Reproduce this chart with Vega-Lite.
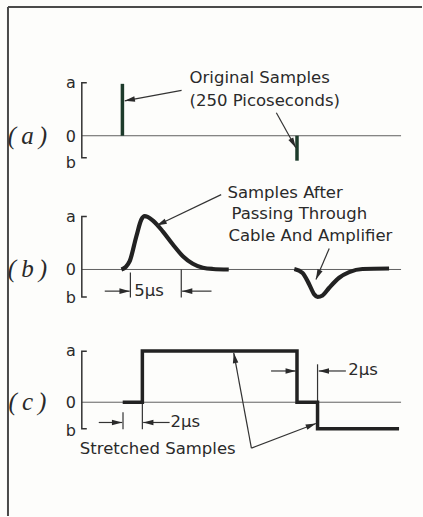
{
  "$schema": "https://vega.github.io/schema/vega-lite/v6.json",
  "width": 423,
  "height": 517,
  "autosize": {"type": "fit", "contains": "padding"},
  "padding": 0,
  "background": "#fdfdfb",
  "config": {"view": {"stroke": null}},
  "datasets": {
    "frame": [
      {"x": 8, "y": 7, "x2": 423, "y2": 7},
      {"x": 8, "y": 7, "x2": 8, "y2": 517}
    ],
    "baselines": [
      {"x": 82, "x2": 402, "y": 136},
      {"x": 82, "x2": 402, "y": 270},
      {"x": 82, "x2": 402, "y": 403}
    ],
    "brackets": [
      {"id": "a", "o": 1, "x": 87, "y": 83},
      {"id": "a", "o": 2, "x": 82, "y": 83},
      {"id": "a", "o": 3, "x": 82, "y": 158},
      {"id": "a", "o": 4, "x": 87, "y": 158},
      {"id": "b", "o": 1, "x": 87, "y": 217},
      {"id": "b", "o": 2, "x": 82, "y": 217},
      {"id": "b", "o": 3, "x": 82, "y": 297.5},
      {"id": "b", "o": 4, "x": 87, "y": 297.5},
      {"id": "c", "o": 1, "x": 87, "y": 352},
      {"id": "c", "o": 2, "x": 82, "y": 352},
      {"id": "c", "o": 3, "x": 82, "y": 429.5},
      {"id": "c", "o": 4, "x": 87, "y": 429.5}
    ],
    "spikes": [
      {"x": 122.7, "y": 136, "y2": 84},
      {"x": 297.7, "y": 136, "y2": 161}
    ],
    "pulses": [
      {"id": "p", "o": 1, "x": 121.7, "y": 270},
      {"id": "p", "o": 2, "x": 126, "y": 267.5},
      {"id": "p", "o": 3, "x": 130, "y": 261.7},
      {"id": "p", "o": 4, "x": 136.7, "y": 236.7},
      {"id": "p", "o": 5, "x": 141.7, "y": 220},
      {"id": "p", "o": 6, "x": 145, "y": 216.5},
      {"id": "p", "o": 7, "x": 148, "y": 217.3},
      {"id": "p", "o": 8, "x": 153.3, "y": 221},
      {"id": "p", "o": 9, "x": 163.3, "y": 232},
      {"id": "p", "o": 10, "x": 173.3, "y": 245},
      {"id": "p", "o": 11, "x": 183.3, "y": 256.7},
      {"id": "p", "o": 12, "x": 193.3, "y": 264.3},
      {"id": "p", "o": 13, "x": 203.3, "y": 268.3},
      {"id": "p", "o": 14, "x": 213.3, "y": 269.5},
      {"id": "p", "o": 15, "x": 229.3, "y": 270},
      {"id": "n", "o": 1, "x": 295, "y": 269.5},
      {"id": "n", "o": 2, "x": 303.3, "y": 273.5},
      {"id": "n", "o": 3, "x": 310, "y": 285},
      {"id": "n", "o": 4, "x": 315, "y": 295},
      {"id": "n", "o": 5, "x": 318.3, "y": 297.5},
      {"id": "n", "o": 6, "x": 323.3, "y": 296},
      {"id": "n", "o": 7, "x": 330, "y": 288.3},
      {"id": "n", "o": 8, "x": 340, "y": 278.3},
      {"id": "n", "o": 9, "x": 350, "y": 272.7},
      {"id": "n", "o": 10, "x": 363.3, "y": 269.5},
      {"id": "n", "o": 11, "x": 390, "y": 269}
    ],
    "steps": [
      {"o": 1, "x": 123, "y": 403},
      {"o": 2, "x": 142.7, "y": 403},
      {"o": 3, "x": 142.7, "y": 351.7},
      {"o": 4, "x": 297.7, "y": 351.7},
      {"o": 5, "x": 297.7, "y": 403},
      {"o": 6, "x": 318.3, "y": 403},
      {"o": 7, "x": 318.3, "y": 429.7},
      {"o": 8, "x": 400, "y": 429.7}
    ],
    "arrows": [
      {"x": 182, "y": 90.5, "x2": 125, "y2": 101},
      {"x": 277, "y": 113, "x2": 296.5, "y2": 148},
      {"x": 221.7, "y": 195, "x2": 157, "y2": 226},
      {"x": 330, "y": 249, "x2": 316.7, "y2": 280},
      {"x": 252, "y": 449, "x2": 234.3, "y2": 353.5},
      {"x": 252, "y": 449, "x2": 316.7, "y2": 424.3},
      {"x": 105, "y": 291.7, "x2": 130, "y2": 291.7},
      {"x": 212, "y": 291.7, "x2": 182.5, "y2": 291.7},
      {"x": 99, "y": 423.3, "x2": 122.5, "y2": 423.3},
      {"x": 170, "y": 423.3, "x2": 143.5, "y2": 423.3},
      {"x": 271.7, "y": 371.7, "x2": 296.5, "y2": 371.7},
      {"x": 346.7, "y": 371.7, "x2": 319.5, "y2": 371.7}
    ],
    "ticks": [
      {"x": 130.7, "y": 273, "y2": 298},
      {"x": 181.7, "y": 270, "y2": 298},
      {"x": 123.3, "y": 413, "y2": 430},
      {"x": 142.7, "y": 403, "y2": 430},
      {"x": 318.3, "y": 365, "y2": 403}
    ],
    "notes": [
      {"x": 190, "y": 78, "text": "Original Samples"},
      {"x": 190, "y": 101, "text": "(250 Picoseconds)"},
      {"x": 228, "y": 193, "text": "Samples After"},
      {"x": 232, "y": 214.5, "text": "Passing Through"},
      {"x": 229, "y": 236, "text": "Cable And Amplifier"},
      {"x": 134.5, "y": 291.5, "text": "5µs"},
      {"x": 171, "y": 423, "text": "2µs"},
      {"x": 349, "y": 371, "text": "2µs"},
      {"x": 80, "y": 450, "text": "Stretched Samples"}
    ],
    "levels": [
      {"x": 71, "y": 83, "text": "a"},
      {"x": 71, "y": 137, "text": "0"},
      {"x": 71, "y": 163, "text": "b"},
      {"x": 71, "y": 217.5, "text": "a"},
      {"x": 71, "y": 270.5, "text": "0"},
      {"x": 71, "y": 298.5, "text": "b"},
      {"x": 71, "y": 352, "text": "a"},
      {"x": 71, "y": 404, "text": "0"},
      {"x": 71, "y": 432, "text": "b"}
    ],
    "panels": [
      {"x": 27.5, "y": 136, "text": "(\u2009a\u2009)"},
      {"x": 27.5, "y": 270, "text": "(\u2009b\u2009)"},
      {"x": 27.5, "y": 403, "text": "(\u2009c\u2009)"}
    ]
  },
  "encoding": {
    "x": {"field": "x", "type": "quantitative", "axis": null, "scale": {"domain": [0, 423], "nice": false, "zero": false}},
    "y": {"field": "y", "type": "quantitative", "axis": null, "scale": {"domain": [0, 517], "nice": false, "zero": false, "reverse": true}}
  },
  "layer": [
    {
      "data": {"name": "frame"},
      "mark": {"type": "rule", "color": "#4a4a4a", "strokeWidth": 2},
      "encoding": {"x2": {"field": "x2"}, "y2": {"field": "y2"}}
    },
    {
      "data": {"name": "baselines"},
      "mark": {"type": "rule", "color": "#606060", "strokeWidth": 1},
      "encoding": {"x2": {"field": "x2"}}
    },
    {
      "data": {"name": "brackets"},
      "mark": {"type": "line", "color": "#333333", "strokeWidth": 1.5, "strokeJoin": "miter"},
      "encoding": {"detail": {"field": "id"}, "order": {"field": "o", "type": "quantitative"}}
    },
    {
      "data": {"name": "ticks"},
      "mark": {"type": "rule", "color": "#333333", "strokeWidth": 1.2},
      "encoding": {"y2": {"field": "y2"}}
    },
    {
      "data": {"name": "spikes"},
      "mark": {"type": "rule", "color": "#1d3b2b", "strokeWidth": 3.5},
      "encoding": {"y2": {"field": "y2"}}
    },
    {
      "data": {"name": "pulses"},
      "mark": {"type": "line", "color": "#222222", "strokeWidth": 4.2, "interpolate": "monotone", "strokeCap": "butt"},
      "encoding": {"detail": {"field": "id"}, "order": {"field": "o", "type": "quantitative"}}
    },
    {
      "data": {"name": "steps"},
      "mark": {"type": "line", "color": "#222222", "strokeWidth": 3.5, "strokeJoin": "miter", "strokeCap": "butt"},
      "encoding": {"order": {"field": "o", "type": "quantitative"}}
    },
    {
      "data": {"name": "arrows"},
      "mark": {"type": "rule", "color": "#333333", "strokeWidth": 1.2},
      "encoding": {"x2": {"field": "x2"}, "y2": {"field": "y2"}}
    },
    {
      "data": {"name": "arrows"},
      "transform": [{"calculate": "(atan2(datum.x2 - datum.x, datum.y - datum.y2) * 180 / PI + 360) % 360", "as": "angle"}],
      "mark": {"type": "point", "filled": true, "color": "#2a2a2a", "opacity": 1, "shape": "M0,0L-0.27,1L0.27,1Z", "size": 420},
      "encoding": {
        "x": {"field": "x2", "type": "quantitative"},
        "y": {"field": "y2", "type": "quantitative"},
        "angle": {"field": "angle", "type": "quantitative", "scale": null}
      }
    },
    {
      "data": {"name": "notes"},
      "mark": {"type": "text", "align": "left", "baseline": "middle", "font": "DejaVu Sans", "fontSize": 16.5, "color": "#2a2a2a"},
      "encoding": {"text": {"field": "text"}}
    },
    {
      "data": {"name": "levels"},
      "mark": {"type": "text", "align": "center", "baseline": "middle", "font": "DejaVu Sans", "fontSize": 16, "color": "#2a2a2a"},
      "encoding": {"text": {"field": "text"}}
    },
    {
      "data": {"name": "panels"},
      "mark": {"type": "text", "align": "center", "baseline": "middle", "font": "Liberation Serif", "fontStyle": "italic", "fontSize": 25, "color": "#2a2a2a"},
      "encoding": {"text": {"field": "text"}}
    }
  ]
}
